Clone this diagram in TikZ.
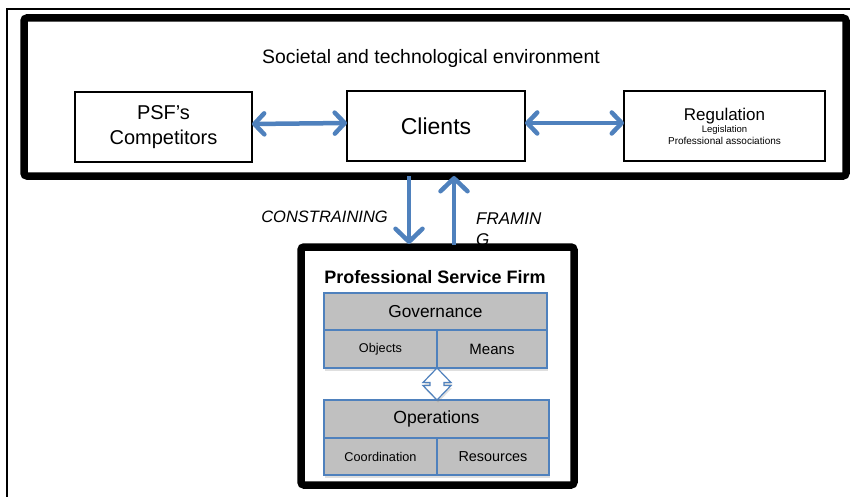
\documentclass[tikz,border=0pt]{standalone}
\usepackage{fontspec}
\setmainfont{Liberation Sans}
\usetikzlibrary{arrows.meta,calc,positioning,shadows}
\definecolor{psfblue}{HTML}{4F81BD}
\definecolor{cellgray}{HTML}{C0C0C0}

\begin{document}
\begin{tikzpicture}[x=1pt,y=-1pt,
  envframe/.style={draw=black,line width=7.5pt,rounded corners=3pt,fill=white,outer sep=0pt,inner sep=0pt,
    drop shadow={shadow xshift=1.5pt,shadow yshift=-3pt,opacity=0.3}},
  actor/.style={draw=black,line width=1.3pt,fill=white,outer sep=0pt,inner sep=0pt,align=center},
  cell/.style={draw=psfblue,line width=1.2pt,fill=cellgray,outer sep=0pt,inner sep=0pt,
    drop shadow={shadow xshift=1pt,shadow yshift=-2.5pt,opacity=0.25}},
  flowh/.style={draw=psfblue,line width=4.5pt,
    {Straight Barb[length=10pt,width=21pt,round]}-{Straight Barb[length=10pt,width=21pt,round]}},
  flowv/.style={draw=psfblue,line width=4.5pt,-{Straight Barb[length=13pt,width=27pt,round]}},
  tag/.style={inner sep=0pt,font=\fontsize{16.5}{21}\itshape\selectfont}]
\useasboundingbox (0,0) rectangle (850,497);
\draw[line width=1.8pt] (7,497) -- (7,9) -- (850,9);

% environment
\node[envframe,minimum width=822pt,minimum height=158pt] (envbox) at (435,97) {};
\node[font=\fontsize{19.4}{23}\selectfont] (envlabel) at (431,58) {Societal and technological environment};
\node[actor,minimum width=177pt,minimum height=70pt,font=\fontsize{20}{25}\selectfont] (comp) at (163.5,127) {PSF's\\Competitors};
\node[actor,minimum width=178pt,minimum height=70pt,font=\fontsize{23}{27}\selectfont] (clients) at (436,126) {Clients};
\node[actor,minimum width=201pt,minimum height=70pt] (reg) at (724.5,126)
  {\fontsize{17}{19}\selectfont Regulation\\ \fontsize{9.5}{13.5}\selectfont Legislation\\Professional associations};
\draw[flowh] ([yshift=3pt]comp.east) -- ([yshift=3pt]clients.west);
\draw[flowh] ([yshift=3pt]clients.east) -- ([yshift=3pt]reg.west);

% links to the firm
\node[tag,anchor=east] (constr) at (388,217) {CONSTRAINING};
\node[tag,anchor=west,align=left,font=\fontsize{17}{21}\itshape\selectfont] (framing) at (476,229) {FRAMIN\\G};

% firm
\node[envframe,minimum width=273pt,minimum height=238pt] (psf) at (437.5,366) {};
\coordinate (dnend) at ($(psf.north)+(-28.5,-3)$);
\coordinate (upstart) at ($(psf.north)+(16.5,-2)$);
\draw[flowv] (dnend |- envbox.south) -- (dnend);
\draw[flowv] (upstart) -- (upstart |- envbox.south);
\node[font=\fontsize{18}{22}\selectfont\bfseries] (psftitle) at (435,277) {Professional Service Firm};

\node[cell,minimum width=223pt,minimum height=37pt,font=\fontsize{17.3}{20}\selectfont] (gov) at (435.5,311.5) {Governance};
\node[cell,anchor=north west,minimum width=113pt,minimum height=38pt,font=\fontsize{12.7}{15}\selectfont] (govobj) at (gov.south west) {Objects};
\node[cell,anchor=north west,minimum width=110pt,minimum height=38pt,font=\fontsize{15}{18}\selectfont] (govmeans) at (govobj.north east) {Means};

\node[cell,minimum width=225pt,minimum height=38pt,font=\fontsize{17.6}{20}\selectfont] (ops) at (436.5,419) {Operations};
\node[cell,anchor=north west,minimum width=113pt,minimum height=37pt,font=\fontsize{12.7}{15}\selectfont] (opscoord) at (ops.south west) {Coordination};
\node[cell,anchor=north west,minimum width=112pt,minimum height=37pt,font=\fontsize{14.4}{17}\selectfont] (opsres) at (opscoord.north east) {Resources};

\draw[cell,fill=white] (govobj.south east) -- ++(14,14.5) -- ++(-7,0) -- ++(0,3) -- ++(7,0) -- (govobj.south east |- ops.north)
  -- ++(-14,-14.5) -- ++(7,0) -- ++(0,-3) -- ++(-7,0) -- cycle;
\end{tikzpicture}
\end{document}
